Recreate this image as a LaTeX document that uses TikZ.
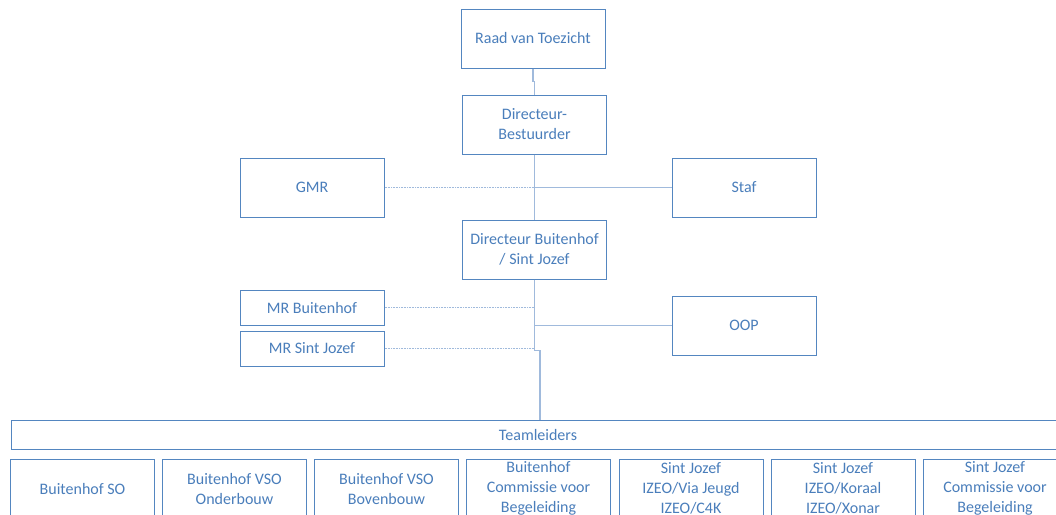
\documentclass[tikz,border=0pt]{standalone}
\usepackage{fontspec}
\setmainfont{Carlito}
\definecolor{boxblue}{RGB}{84,134,192}
\definecolor{textblue}{RGB}{74,126,187}
\definecolor{lineblue}{RGB}{160,186,220}
\tikzset{
orgbox/.style={draw=boxblue, line width=0.75pt, fill=white, text=textblue,
  minimum width=108pt, minimum height=44.25pt, align=center, inner sep=1pt,
  font=\fontsize{12}{15}\selectfont},
smallbox/.style={orgbox, minimum height=26.25pt},
conn/.style={draw=lineblue, line width=0.9pt},
dotconn/.style={draw=lineblue, line width=0.9pt, dash pattern=on 0.6pt off 0.6pt}
}

\begin{document}
\begin{tikzpicture}[x=0.75pt, y=-0.75pt]
\useasboundingbox (0,0) rectangle (1056,514);
\clip (0,0) rectangle (1056,514);
% connectors first
\coordinate (tl) at (540,420);
\node[orgbox] (raad) at (533,38.5) {Raad van Toezicht};
\node[orgbox] (dirb) at (534.5,124.5) {Directeur-\\Bestuurder};
\node[orgbox] (gmr) at (312,187.5) {GMR};
\node[orgbox] (staf) at (744,187.5) {Staf};
\node[orgbox] (dirbh) at (534.5,249.5) {Directeur Buitenhof\\/ Sint Jozef};
\node[smallbox] (mrb) at (312,307.5) {MR Buitenhof};
\node[smallbox] (mrsj) at (312,348.5) {MR Sint Jozef};
\node[orgbox] (oop) at (744,325.5) {OOP};
\node[orgbox, minimum width=790pt, minimum height=21.75pt] (team) at (538,434.5) {Teamleiders};
\draw[conn] (raad.south) -- ++(0,13) -| (dirb.north);
\draw[conn] (dirb.south) -- (dirbh.north);
\draw[dotconn] (gmr.east) -- (gmr.east -| dirb.south);
\draw[conn] (staf.west) -- (staf.west -| dirb.south);
\draw[dotconn] (mrb.east) -- (mrb.east -| dirbh.south);
\draw[dotconn] (mrsj.east) -- (mrsj.east -| dirbh.south);
\draw[conn] (oop.west) -- (oop.west -| dirbh.south);
\draw[conn] (dirbh.south) -- ++(0,71) -| (tl);
% teamleiders
\node[orgbox] (bso) at (82.5,488.5) {Buitenhof SO};
\node[orgbox] (bvsoo) at (234.5,488.5) {Buitenhof VSO\\Onderbouw};
\node[orgbox] (bvsob) at (386.5,488.5) {Buitenhof VSO\\Bovenbouw};
\node[orgbox] (bcvb) at (538.5,488.5) {Buitenhof\\Commissie voor\\Begeleiding};
\node[orgbox] (sjvia) at (691,488.5) {Sint Jozef\\IZEO/Via Jeugd\\IZEO/C4K};
\node[orgbox] (sjkor) at (843,488.5) {Sint Jozef\\IZEO/Koraal\\IZEO/Xonar};
\node[orgbox] (sjcvb) at (995,488.5) {Sint Jozef\\Commissie voor\\Begeleiding};
\end{tikzpicture}
\end{document}
